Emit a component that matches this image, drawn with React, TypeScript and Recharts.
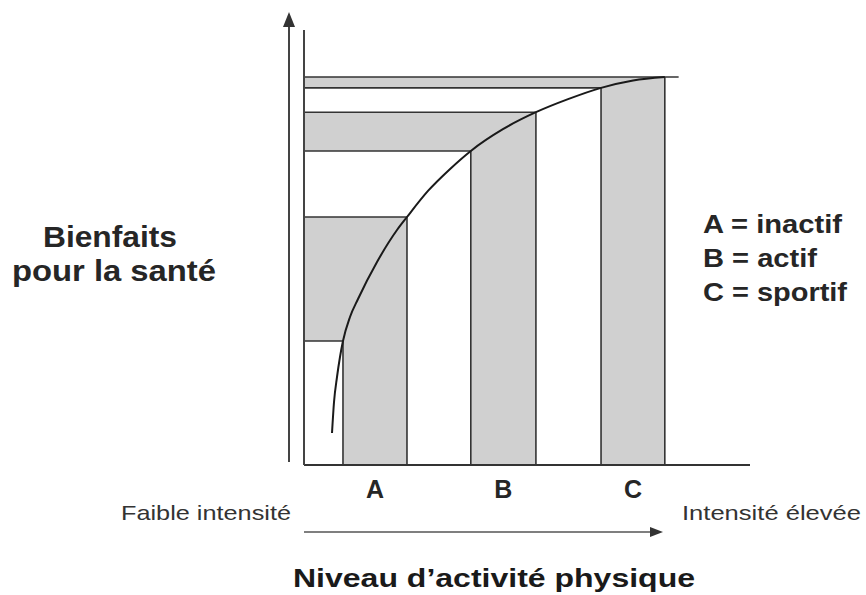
import React from "react";
import { ComposedChart, XAxis, YAxis, Line, Area } from "recharts";

// Concave "benefit vs activity" curve (x: activity 0-100, y: benefit 0-100)
const curveX = [6.28, 6.73, 7.4, 8.07, 8.74, 10.31, 12.11, 16.37, 20.85, 23.09, 27.8, 32.7, 37.4, 44.6, 52.0, 59.2, 66.6, 73.8, 80.9];
const curveY = [7.36, 14.48, 20.23, 24.83, 28.51, 34.02, 38.16, 46.67, 54.02, 57.01, 63.0, 68.0, 72.2, 77.2, 81.1, 84.1, 86.7, 88.4, 89.2];

const categories = ["A", "B", "C"];
const barStart = [8.74, 37.4, 66.6];
const barEnd = [23.09, 52.0, 80.9];
const bandLow = [28.51, 72.2, 86.7];
const bandHigh = [57.01, 81.1, 89.2];
const topLineEnd = 84;

const legendLines = ["A = inactif", "B = actif", "C = sportif"];

const FILL = "#d0d0d0";
const INK = "#262626";

const curve = curveX.map((x, i) => ({ x, y: curveY[i] }));
const barCenters = barStart.map((s, i) => (s + barEnd[i]) / 2);

const barData = barStart.map((s, i) =>
  curve.filter((p) => p.x >= s - 1e-6 && p.x <= barEnd[i] + 1e-6)
);
const bandData = bandLow.map((lo, i) => [
  { x: 0, r: [lo, bandHigh[i]] },
  { x: barEnd[i], r: [lo, bandHigh[i]] },
]);

// outlines: vertical bar edges + horizontal band edges
const edges: { x: number; y: number }[][] = [];
barStart.forEach((s, i) => {
  edges.push([{ x: s, y: 0 }, { x: s, y: bandLow[i] }]);
  edges.push([{ x: barEnd[i], y: 0 }, { x: barEnd[i], y: bandHigh[i] }]);
  edges.push([{ x: 0, y: bandLow[i] }, { x: s, y: bandLow[i] }]);
  const hiEnd = i === barStart.length - 1 ? topLineEnd : barEnd[i];
  edges.push([{ x: 0, y: bandHigh[i] }, { x: hiEnd, y: bandHigh[i] }]);
});

const font = "'Liberation Sans', Arial, sans-serif";

const CatTick = ({ x, y, payload }: any) => {
  const idx = barCenters.findIndex((c) => Math.abs(c - payload.value) < 1e-6);
  return (
    <text x={x} y={y} dy={33} textAnchor="middle" fontFamily={font} fontWeight="bold" fontSize={25} fill={INK}>
      {categories[idx]}
    </text>
  );
};

export default function App() {
  return (
    <div style={{ position: "absolute", left: 0, top: 0, width: 866, height: 595, background: "#fff" }}>
      <ComposedChart width={866} height={595} margin={{ top: 30, right: 116, bottom: 90, left: 294 }}>
        <XAxis
          dataKey="x"
          type="number"
          domain={[0, 100]}
          allowDataOverflow
          ticks={barCenters}
          tick={<CatTick />}
          tickLine={false}
          tickSize={0}
          tickMargin={0}
          height={40}
          axisLine={{ stroke: "#333", strokeWidth: 2 }}
        />
        <YAxis
          type="number"
          domain={[0, 100]}
          allowDataOverflow
          tick={false}
          tickLine={false}
          width={10}
          axisLine={{ stroke: "#444", strokeWidth: 2 }}
        />
        {bandData.map((d, i) => (
          <Area
            key={"band" + i}
            data={d}
            dataKey="r"
            type="linear"
            stroke="none"
            fill={FILL}
            fillOpacity={1}
            isAnimationActive={false}
          />
        ))}
        {barData.map((d, i) => (
          <Area
            key={"bar" + i}
            data={d}
            dataKey="y"
            type="monotone"
            baseValue={0}
            stroke="none"
            fill={FILL}
            fillOpacity={1}
            isAnimationActive={false}
          />
        ))}
        {edges.map((d, i) => (
          <Line
            key={"edge" + i}
            data={d}
            dataKey="y"
            type="linear"
            stroke="#333"
            strokeWidth={1.6}
            dot={false}
            activeDot={false}
            isAnimationActive={false}
          />
        ))}
        <Line
          data={curve}
          dataKey="y"
          type="monotone"
          stroke="#1a1a1a"
          strokeWidth={2}
          dot={false}
          activeDot={false}
          isAnimationActive={false}
        />
      </ComposedChart>
      <svg width={866} height={595} style={{ position: "absolute", left: 0, top: 0, pointerEvents: "none" }}>
        {/* outer y arrow */}
        <line x1={289} y1={462} x2={289} y2={22} stroke="#444" strokeWidth={2} />
        <polygon points="289,12 283,27 295,27" fill="#333" />
        {/* bottom intensity arrow */}
        <line x1={304} y1={532} x2={652} y2={532} stroke="#555" strokeWidth={1.6} />
        <polygon points="663,532 650,527 650,537" fill="#333" />

        <g fontFamily={font} fill={INK}>
          <text x={43} y={247} fontSize={30} fontWeight="bold" textLength={134} lengthAdjust="spacingAndGlyphs">
            Bienfaits
          </text>
          <text x={12} y={281} fontSize={30} fontWeight="bold" textLength={204} lengthAdjust="spacingAndGlyphs">
            pour la santé
          </text>
          {legendLines.map((t, i) => (
            <text
              key={t}
              x={703}
              y={233 + i * 34}
              fontSize={25}
              fontWeight="bold"
              textLength={[139, 114, 144][i]}
              lengthAdjust="spacingAndGlyphs"
            >
              {t}
            </text>
          ))}
          <text x={121} y={520} fontSize={21} fill="#333" textLength={170} lengthAdjust="spacingAndGlyphs">
            Faible intensité
          </text>
          <text x={682} y={520} fontSize={21} fill="#333" textLength={179} lengthAdjust="spacingAndGlyphs">
            Intensité élevée
          </text>
          <text x={293} y={587} fontSize={26} fontWeight="bold" fill="#1a1a1a" textLength={402} lengthAdjust="spacingAndGlyphs">
            Niveau d’activité physique
          </text>
        </g>
      </svg>
    </div>
  );
}
